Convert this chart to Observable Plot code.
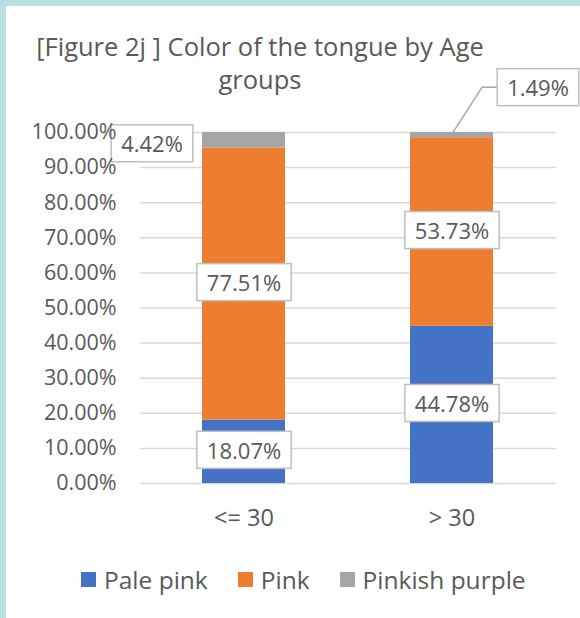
<!DOCTYPE html>
<html><head><meta charset="utf-8">
<script src="https://cdn.jsdelivr.net/npm/d3@7"></script>
<script src="https://cdn.jsdelivr.net/npm/@observablehq/plot@0.6"></script>
<style>
html,body{margin:0;padding:0;}
body{width:580px;height:618px;background:#b9dfe4;position:relative;overflow:hidden;font-family:"Open Sans",sans-serif;}
#card{position:absolute;left:6px;top:6px;right:0;bottom:0;background:#fff;}
#chart{position:absolute;left:0;top:0;}
#title{position:absolute;left:0;top:30px;width:520px;text-align:center;font-size:25.5px;line-height:33px;color:#595959;}
#legend{position:absolute;left:81px;top:563px;}
</style></head><body>
<div id="card"></div>
<div id="chart"></div>
<div id="title">[Figure 2j ] Color of the tongue by Age<br>groups</div>
<div id="legend"></div>
<script>
const groups = ["<= 30", "> 30"];
const series = ["Pale pink", "Pink", "Pinkish purple"];
const palePink = [18.07, 44.78];
const pink = [77.51, 53.73];
const pinkishPurple = [4.42, 1.49];
const colors = ["#4472C4", "#ED7D31", "#A5A5A5"];
const yTicks = [0, 10, 20, 30, 40, 50, 60, 70, 80, 90, 100];

const seriesValues = [palePink, pink, pinkishPurple];
const rows = series.flatMap((s, k) => groups.map((g, i) => ({group: g, series: s, value: seriesValues[k][i]})));
const fmt = v => v.toFixed(2) + "%";

const stackOpts = (textFn, cls, extra = {}) => Plot.text(rows, Plot.stackY({
  x: "group", y: "value", text: textFn, className: cls, fontSize: 22, fill: "#595959", ...extra
}));

const plot = Plot.plot({
  width: 580, height: 618,
  marginTop: 132, marginBottom: 135, marginLeft: 140, marginRight: 24,
  style: "background:transparent;font-family:'Open Sans',sans-serif;font-size:21.5px;color:#595959;",
  x: {domain: groups, paddingInner: 0.6, paddingOuter: 0.3, label: null},
  y: {domain: [0, 100], label: null},
  color: {domain: series, range: colors},
  marks: [
    Plot.gridY(yTicks, {stroke: "#d9d9d9", strokeOpacity: 1, strokeWidth: 1.5}),
    Plot.barY(rows, Plot.stackY({x: "group", y: "value", fill: "series"})),
    stackOpts(d => d.series !== "Pinkish purple" ? fmt(d.value) : null, "lbl"),
    stackOpts(d => d.series === "Pinkish purple" && d.group === groups[0] ? fmt(d.value) : null, "lbl lblA", {dx: -92, dy: 5}),
    stackOpts(d => d.series === "Pinkish purple" && d.group === groups[1] ? fmt(d.value) : null, "lbl lblB", {dx: 86, dy: -46}),
    Plot.axisY(yTicks, {tickSize: 0, tickPadding: 24, tickFormat: fmt, label: null, fontSize: 21.5}),
    Plot.axisX({tickSize: 0, tickPadding: 26, label: null, fontSize: 23.5})
  ]
});
document.getElementById("chart").append(plot);

const NS = "http://www.w3.org/2000/svg";
const padX = 10, padY = 3.5;
plot.querySelectorAll("g.lbl text").forEach(t => {
  if (!t.textContent) return;
  const b = t.getBBox();
  const r = document.createElementNS(NS, "rect");
  r.setAttribute("x", b.x - padX);
  r.setAttribute("y", b.y - padY);
  r.setAttribute("width", b.width + 2 * padX);
  r.setAttribute("height", b.height + 2 * padY);
  r.setAttribute("fill", "#fff");
  r.setAttribute("stroke", "#bfbfbf");
  r.setAttribute("stroke-width", "1.5");
  const tr = t.getAttribute("transform");
  if (tr) r.setAttribute("transform", tr);
  t.parentNode.insertBefore(r, t);
});

// leader line for the small label of the second group
const tB = [...plot.querySelectorAll("g.lblB text")].find(t => t.textContent);
if (tB) {
  const b = tB.getBBox();
  const m = tB.getCTM();
  const left = m.e + b.x - padX;
  const cy = m.f + b.y + b.height / 2;
  const xs = plot.scale("x"), ys = plot.scale("y");
  const sx = xs.apply(groups[1]) + xs.bandwidth / 2;
  const sy = ys.apply(palePink[1] + pink[1] + pinkishPurple[1] / 2);
  const p = document.createElementNS(NS, "polyline");
  p.setAttribute("points", `${sx},${sy} ${left - 15},${cy} ${left},${cy}`);
  p.setAttribute("fill", "none");
  p.setAttribute("stroke", "#a6a6a6");
  p.setAttribute("stroke-width", "1.5");
  tB.parentNode.parentNode.insertBefore(p, tB.parentNode);
}

const leg = Plot.legend({
  color: {domain: series, range: colors},
  legend: "swatches", swatchSize: 15,
  style: "font-family:'Open Sans',sans-serif;font-size:24.5px;color:#595959;"
});
document.getElementById("legend").append(leg);
leg.querySelectorAll("span").forEach(s => { s.style.marginRight = "30px"; });
leg.querySelectorAll("span > svg").forEach(s => { s.style.marginRight = "8px"; });
</script>
</body></html>
